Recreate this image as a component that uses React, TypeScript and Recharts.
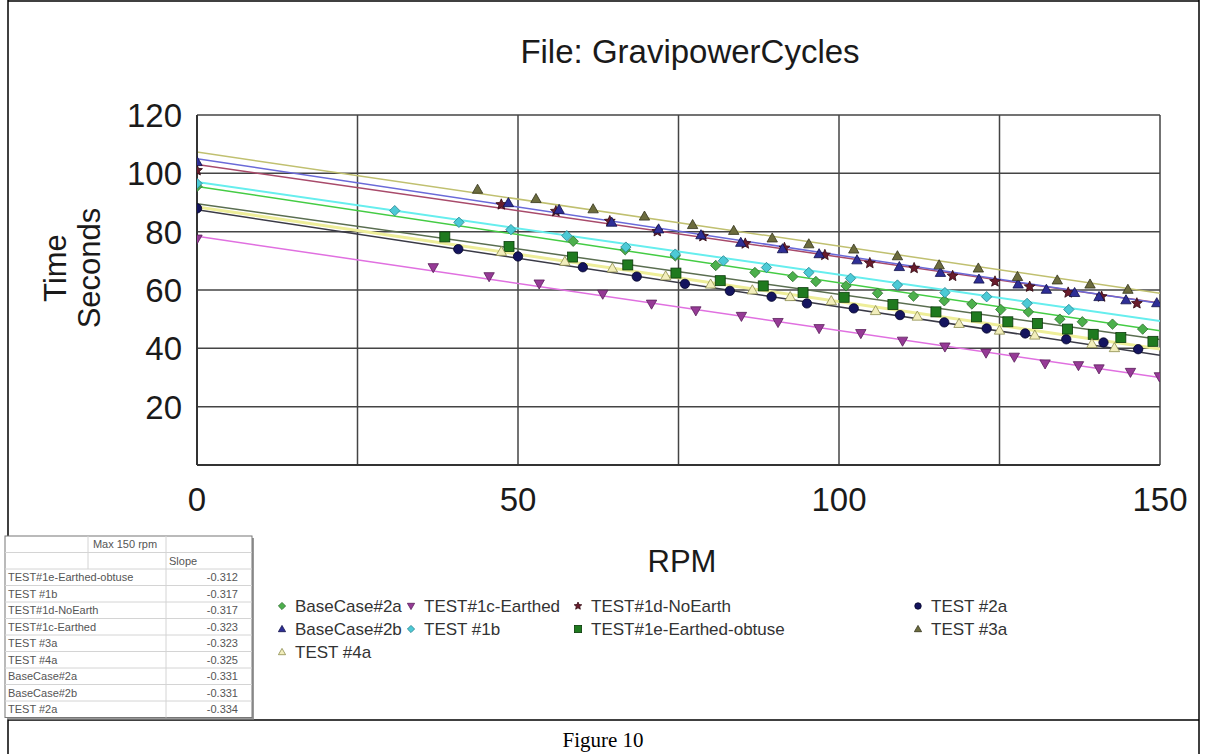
import React from 'react';
import { ComposedChart, Line, Scatter, XAxis, YAxis, CartesianGrid } from 'recharts';

const FONT = '"Liberation Sans", Arial, sans-serif';

// axes
const xTicks = [0, 25, 50, 75, 100, 125, 150];
const xTickLabels = ['0', '', '50', '', '100', '', '150'];
const yTicks = [0, 20, 40, 60, 80, 100, 120];
const yTickLabels = ['', '20', '40', '60', '80', '100', '120'];

// series, in legend order
const seriesNames = [
  'BaseCase#2a', 'TEST#1c-Earthed', 'TEST#1d-NoEarth', 'TEST #2a',
  'BaseCase#2b', 'TEST #1b', 'TEST#1e-Earthed-obtuse', 'TEST #3a', 'TEST #4a',
];

const baseCase2aRpm = [0, 58.6, 66.7, 74.5, 80.8, 86.9, 92.8, 96.4, 101.1, 106, 111.6, 116.4, 120.7, 125.2, 129.5, 134.4, 137.9, 142.6, 147.3];
const baseCase2aTime = [95.5, 76.7, 73.8, 71.7, 68.4, 66, 64.6, 62.9, 61.4, 58.9, 57.9, 56.3, 55.2, 53.3, 52.5, 50, 49.1, 48.3, 46.6];

const test1cRpm = [0, 36.8, 45.5, 53.3, 63.2, 70.8, 77.7, 84.8, 90.5, 96.9, 103.4, 109.9, 116.5, 122.9, 127.3, 132.1, 137.3, 140.5, 145.4, 149.9];
const test1cTime = [77.5, 67.7, 64.6, 62.1, 58.6, 55.2, 52.9, 51, 48.9, 46.8, 45.1, 42.5, 40.5, 38.4, 37, 34.7, 34.1, 33, 31.8, 30.3];

const test1dRpm = [0, 47.4, 55.9, 64.3, 71.7, 78.8, 85.4, 91.5, 97.8, 104.8, 111.7, 117.7, 124.3, 129.7, 135.7, 140.9, 146.4];
const test1dTime = [101, 89.3, 87, 83.6, 80.1, 78.4, 75.9, 74.4, 72, 69.2, 67.5, 64.8, 62.9, 61.1, 59.1, 57.7, 55.4];

const test2aRpm = [0, 40.7, 50, 60.1, 68.5, 76, 83, 89.5, 95, 102.3, 109.5, 116.4, 123, 129, 135.4, 141.2, 146.6];
const test2aTime = [88, 74, 71.5, 67.8, 64.6, 62.1, 59.7, 57.7, 55.4, 53.7, 51.4, 48.9, 46.8, 45.1, 43.1, 42, 39.7];

const baseCase2bRpm = [0, 48.5, 56.4, 64.6, 71.9, 78.5, 84.7, 91.2, 96.9, 102.8, 109.4, 115.8, 121.8, 127.9, 132.3, 136.7, 140.5, 144.7, 149.5];
const baseCase2bTime = [104, 89.9, 87.6, 83.2, 80.9, 78.9, 76.3, 74.1, 72.4, 70.3, 68, 66, 63.7, 62, 60.2, 59.1, 57.7, 56.6, 55.6];

const test1bRpm = [0, 30.8, 40.8, 48.9, 57.6, 66.8, 74.5, 82, 88.7, 95.3, 101.8, 109.1, 116.5, 123, 129.3, 135.8];
const test1bTime = [96.5, 87.2, 83.2, 80.7, 78.6, 74.7, 72.3, 70, 67.7, 66, 64, 61.7, 59.1, 57.7, 55.4, 53.3];

const test1eRpm = [38.6, 48.6, 58.5, 67.1, 74.6, 81.5, 88.2, 94.4, 100.8, 108.4, 115.1, 121.4, 126.3, 130.9, 135.6, 139.6, 143.9, 148.9];
const test1eTime = [78.2, 74.9, 71.3, 68.6, 65.8, 63.2, 61.4, 59.1, 57.5, 55, 52.5, 50.8, 49.1, 48.5, 46.6, 44.8, 43.7, 42.4];

const test3aRpm = [43.7, 52.8, 61.7, 69.7, 77.2, 83.6, 89.6, 95.3, 102.3, 109.1, 115.6, 121.7, 127.8, 134, 139.1, 145];
const test3aTime = [94.5, 91.3, 87.8, 85.3, 82.4, 80.4, 77.8, 75.8, 74, 71.7, 68.6, 67.5, 64.6, 63.4, 62, 60.2];

const test4aRpm = [47.4, 57.3, 64.7, 73, 80, 86.5, 92.4, 98.8, 105.7, 112.2, 118.7, 125, 130.5, 139.4, 142.9];
const test4aTime = [73.2, 69.8, 67.5, 64.8, 62, 60, 57.7, 56.3, 52.9, 51, 48.5, 46.2, 44.5, 41.6, 40.2];

const seriesRpm = [baseCase2aRpm, test1cRpm, test1dRpm, test2aRpm, baseCase2bRpm, test1bRpm, test1eRpm, test3aRpm, test4aRpm];
const seriesTime = [baseCase2aTime, test1cTime, test1dTime, test2aTime, baseCase2bTime, test1bTime, test1eTime, test3aTime, test4aTime];

// linear trend lines, read at 0 and 150 rpm
const trendRpm = [0, 150];
const trendAt0 = [95.5, 78.4, 103.0, 87.5, 105.0, 97.0, 89.6, 107.3, 88.5];
const trendAt150 = [46.0, 30.0, 55.5, 37.6, 55.4, 49.4, 43.0, 58.9, 39.8];

// slope table
const tableNames = ['TEST#1e-Earthed-obtuse', 'TEST #1b', 'TEST#1d-NoEarth', 'TEST#1c-Earthed', 'TEST #3a', 'TEST #4a', 'BaseCase#2a', 'BaseCase#2b', 'TEST #2a'];
const tableSlopes = ['-0.312', '-0.317', '-0.317', '-0.323', '-0.323', '-0.325', '-0.331', '-0.331', '-0.334'];

// styles
const markerKind = ['diamond', 'triDown', 'star', 'circle', 'triangle', 'diamond', 'square', 'triangle', 'triangle'];
const markerFill = ['#4cb04c', '#963a96', '#6a1c2c', '#14145e', '#2e2e96', '#4ccad6', '#1f7a1f', '#6c6c3e', '#f2eebc'];
const markerStroke = ['#2d6b2d', '#5a1f5a', '#300810', '#05052a', '#12124a', '#237f8a', '#0b3b0b', '#34341c', '#8c8c4c'];
const lineColor = ['#44cc44', '#e070e0', '#a84a6a', '#3a3a46', '#6a6ad8', '#66eeee', '#5a6e50', '#c0c070', '#eeee99'];
const lineWidth = [1.5, 1.5, 1.5, 1.5, 1.5, 2, 1.5, 1.5, 3];

function Marker({ cx, cy, kind, fill, stroke, r }: any) {
  if (cx == null || cy == null) return null;
  const sw = 0.8;
  if (kind === 'circle') return <circle cx={cx} cy={cy} r={r * 0.9} fill={fill} stroke={stroke} strokeWidth={sw} />;
  if (kind === 'square') return <rect x={cx - r} y={cy - r} width={r * 2} height={r * 2} fill={fill} stroke={stroke} strokeWidth={sw} />;
  if (kind === 'diamond') return <polygon points={`${cx},${cy - r} ${cx + r},${cy} ${cx},${cy + r} ${cx - r},${cy}`} fill={fill} stroke={stroke} strokeWidth={sw} />;
  if (kind === 'triangle') return <polygon points={`${cx},${cy - r} ${cx + r},${cy + r * 0.75} ${cx - r},${cy + r * 0.75}`} fill={fill} stroke={stroke} strokeWidth={sw} />;
  if (kind === 'triDown') return <polygon points={`${cx},${cy + r} ${cx + r},${cy - r * 0.75} ${cx - r},${cy - r * 0.75}`} fill={fill} stroke={stroke} strokeWidth={sw} />;
  // star
  const pts: string[] = [];
  for (let k = 0; k < 10; k++) {
    const a = -Math.PI / 2 + (k * Math.PI) / 5;
    const rr = k % 2 === 0 ? r * 1.1 : r * 0.5;
    pts.push(`${cx + rr * Math.cos(a)},${cy + rr * Math.sin(a)}`);
  }
  return <polygon points={pts.join(' ')} fill={fill} stroke={stroke} strokeWidth={sw} />;
}

const XTick = (p: any) => {
  const i = xTicks.indexOf(p.payload.value);
  return (
    <text x={p.x} y={p.y} dy="0.71em" textAnchor="middle" fontSize={33} fontFamily={FONT} fill="#1a1a1a">
      {xTickLabels[i]}
    </text>
  );
};

const YTick = (p: any) => {
  const i = yTicks.indexOf(p.payload.value);
  return (
    <text x={p.x} y={p.y} dy="0.36em" textAnchor="end" fontSize={33} fontFamily={FONT} fill="#1a1a1a">
      {yTickLabels[i]}
    </text>
  );
};

const legendCols = [282, 411, 578, 918];
const legendRows = [606, 629, 652];

export default function App() {
  const scatterData = seriesNames.map((_, s) => seriesRpm[s].map((x, i) => ({ x, y: seriesTime[s][i] })));
  const trendData = seriesNames.map((_, s) => [
    { x: trendRpm[0], y: trendAt0[s] },
    { x: trendRpm[1], y: trendAt150[s] },
  ]);

  const rowH = 16.5;
  const tTop = 536;

  return (
    <div style={{ position: 'absolute', left: 0, top: 0, width: 1206, height: 754, background: '#fff', overflow: 'hidden' }}>
      <div style={{ position: 'absolute', left: 0, top: 0 }}>
        <ComposedChart width={1206} height={560} margin={{ top: 115, right: 46, bottom: 35, left: 0 }}>
          <CartesianGrid stroke="#444" strokeWidth={1.5} />
          <XAxis
            type="number"
            dataKey="x"
            domain={[0, 150]}
            ticks={xTicks}
            interval={0}
            height={60}
            tickSize={0}
            tickMargin={23}
            tickLine={false}
            axisLine={{ stroke: '#333', strokeWidth: 2 }}
            tick={<XTick />}
            allowDataOverflow
          />
          <YAxis
            type="number"
            dataKey="y"
            domain={[0, 120]}
            ticks={yTicks}
            interval={0}
            width={197}
            tickSize={0}
            tickMargin={15}
            tickLine={false}
            axisLine={{ stroke: '#333', strokeWidth: 2 }}
            tick={<YTick />}
            allowDataOverflow
          />
          {seriesNames.map((n, s) => (
            <Line
              key={'t' + n}
              data={trendData[s]}
              dataKey="y"
              type="linear"
              stroke={lineColor[s]}
              strokeWidth={lineWidth[s]}
              dot={false}
              activeDot={false}
              isAnimationActive={false}
              legendType="none"
            />
          ))}
          {seriesNames.map((n, s) => (
            <Scatter
              key={'s' + n}
              name={n}
              data={scatterData[s]}
              dataKey="y"
              isAnimationActive={false}
              shape={(p: any) => (
                <Marker cx={p.cx} cy={p.cy} kind={markerKind[s]} fill={markerFill[s]} stroke={markerStroke[s]} r={markerKind[s] === 'square' ? 5 : 5.2} />
              )}
            />
          ))}
        </ComposedChart>
      </div>

      <svg width={1206} height={754} style={{ position: 'absolute', left: 0, top: 0, pointerEvents: 'none' }}>
        {/* frame */}
        <line x1={8} y1={0} x2={8} y2={754} stroke="#000" strokeWidth={1.5} />
        <line x1={1199} y1={0} x2={1199} y2={754} stroke="#000" strokeWidth={1.5} />
        <line x1={8} y1={1} x2={1199} y2={1} stroke="#000" strokeWidth={1.5} />
        <line x1={8} y1={720} x2={1199} y2={720} stroke="#000" strokeWidth={1.5} />

        <text x={690} y={63} textAnchor="middle" fontSize={33} fontFamily={FONT} fill="#1a1a1a">File: GravipowerCycles</text>
        <text x={682} y={572} textAnchor="middle" fontSize={31} fontFamily={FONT} fill="#1a1a1a">RPM</text>
        <text transform="translate(66,268) rotate(-90)" textAnchor="middle" fontSize={31} fontFamily={FONT} fill="#1a1a1a">Time</text>
        <text transform="translate(100,268) rotate(-90)" textAnchor="middle" fontSize={31} fontFamily={FONT} fill="#1a1a1a">Seconds</text>

        {/* legend */}
        {seriesNames.map((n, s) => {
          const cx = legendCols[s % 4];
          const cy = legendRows[Math.floor(s / 4)];
          return (
            <g key={'lg' + n}>
              <Marker cx={cx} cy={cy} kind={markerKind[s]} fill={markerFill[s]} stroke={markerStroke[s]} r={3.6} />
              <text x={cx + 13} y={cy + 6} fontSize={17} fontFamily={FONT} fill="#333">{n}</text>
            </g>
          );
        })}

        {/* slope table */}
        <rect x={7} y={tTop + 2} width={247} height={rowH * 11} fill="#999" />
        <rect x={5} y={tTop} width={247} height={rowH * 11} fill="#fff" stroke="#777" strokeWidth={1} />
        {Array.from({ length: 10 }).map((_, k) => (
          <line key={'hl' + k} x1={5} x2={252} y1={tTop + rowH * (k + 1)} y2={tTop + rowH * (k + 1)} stroke="#d4d4d4" strokeWidth={1} />
        ))}
        <line x1={88} x2={88} y1={tTop} y2={tTop + rowH * 2} stroke="#d4d4d4" />
        <line x1={166} x2={166} y1={tTop} y2={tTop + rowH * 11} stroke="#d4d4d4" />
        <text x={125} y={tTop + rowH * 0.5 + 4} textAnchor="middle" fontSize={11} fontFamily={FONT} fill="#555">Max 150 rpm</text>
        <text x={169} y={tTop + rowH * 1.5 + 4} fontSize={11} fontFamily={FONT} fill="#555">Slope</text>
        {tableNames.map((n, k) => (
          <g key={'tr' + n}>
            <text x={8} y={tTop + rowH * (k + 2.5) + 4} fontSize={11} fontFamily={FONT} fill="#555">{n}</text>
            <text x={238} y={tTop + rowH * (k + 2.5) + 4} textAnchor="end" fontSize={11} fontFamily={FONT} fill="#555">{tableSlopes[k]}</text>
          </g>
        ))}

        <text x={603} y={747} textAnchor="middle" fontSize={21} fontFamily={'"Liberation Serif", "Times New Roman", serif'} fill="#000">Figure 10</text>
      </svg>
    </div>
  );
}
